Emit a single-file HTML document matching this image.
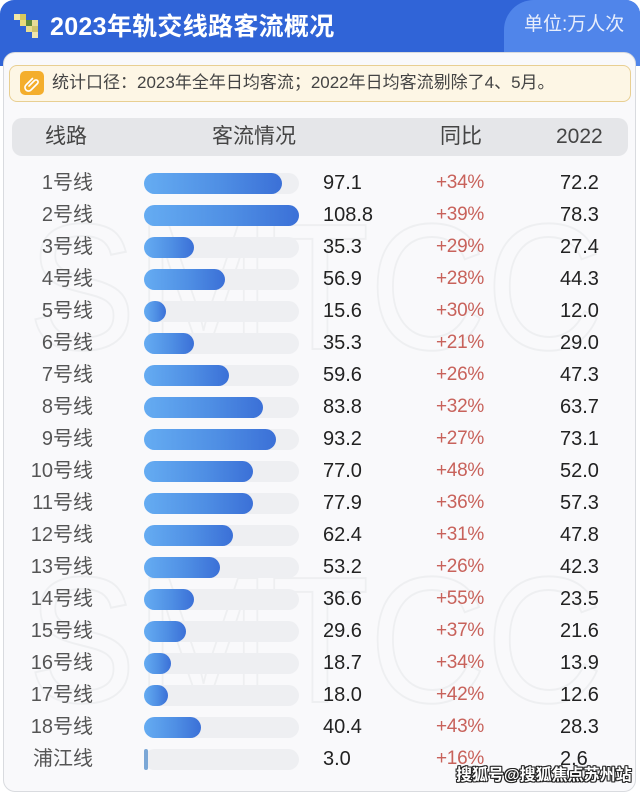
<!DOCTYPE html>
<html><head><meta charset="utf-8">
<style>
*{margin:0;padding:0;box-sizing:border-box}
html,body{width:640px;height:795px;background:#fff;overflow:hidden}
body{position:relative;font-family:"Liberation Sans","Noto Sans CJK SC",sans-serif}
.abs{position:absolute}
.hdr{left:0;top:0;width:640px;height:66px;background:#3064d7;border-radius:14px 14px 0 0}
.tab{left:504px;top:0;width:136px;height:66px;background:#5085ea;border-radius:30px 14px 0 0}
.title{left:50px;top:9px;font-size:25px;font-weight:bold;color:#fff;letter-spacing:0.3px;line-height:36px;white-space:nowrap}
.unit{left:524px;top:11px;font-size:19px;color:#e8eefc;line-height:28px;white-space:nowrap}
.card{left:3px;top:52px;width:633px;height:740px;background:#f9f9fb;border:1px solid #d9dbdf;border-radius:12px;overflow:hidden}
.note{left:9px;top:65px;width:622px;height:37px;background:#fdf6e5;border:1.5px solid #e8cf92;border-radius:8px}
.noteic{left:20px;top:71px;width:24px;height:24px;background:#f4ae2c;border-radius:5px}
.notetx{left:52px;top:70px;font-size:17px;color:#444;line-height:26px;white-space:nowrap}
.th{left:12px;top:118px;width:616px;height:38px;background:#e5e6e9;border-radius:10px}
.thx{top:118px;font-size:21px;color:#444;line-height:38px;white-space:nowrap}
.lbl{width:80px;left:13px;text-align:right;font-size:20px;color:#555;line-height:24px;white-space:nowrap}
.trk{left:144px;width:155px;height:21px;background:#eeeff2;border-radius:11px}
.bar{left:144px;height:21px;border-radius:11px;background:linear-gradient(90deg,#65acf2 0%,#4f8fe4 55%,#3b70d7 100%)}
.v{left:323px;font-size:20px;color:#222;line-height:24px;white-space:nowrap}
.p{left:436px;font-size:19px;color:#c8625b;line-height:24px;letter-spacing:-0.3px;white-space:nowrap}
.o{left:560px;font-size:20px;color:#222;line-height:24px;white-space:nowrap}
.sohu{left:456px;top:764px;font-size:16px;font-weight:bold;color:#fff;white-space:nowrap;line-height:24px;
text-shadow:1px 0 0 #222,-1px 0 0 #222,0 1px 0 #222,0 -1px 0 #222,1px 1px 0 #222,-1px -1px 0 #222,1px -1px 0 #222,-1px 1px 0 #222}
</style></head><body>
<div class="abs hdr"></div>
<div class="abs tab"></div>
<svg class="abs" style="left:14px;top:14px" width="26" height="24" viewBox="0 0 26 24">
<rect x="0" y="0" width="6" height="6" fill="#f1e7a6"/>
<rect x="6" y="0" width="6" height="6" fill="#d8c85c"/>
<rect x="6" y="6" width="6" height="6" fill="#e9dc7c"/>
<rect x="12" y="6" width="6" height="6" fill="#5f8c3c"/>
<rect x="18" y="6" width="6" height="6" fill="#e6dc98"/>
<rect x="12" y="12" width="6" height="6" fill="#e8de92"/>
<rect x="18" y="12" width="6" height="6" fill="#cfc46c"/>
<rect x="18" y="18" width="6" height="6" fill="#efe6ae"/>
</svg>
<div class="abs title">2023年轨交线路客流概况</div>
<div class="abs unit">单位:万人次</div>
<div class="abs card"></div>
<svg class="abs" style="left:3px;top:52px" width="633" height="740">
<g fill="none" stroke="#eeeff1" stroke-width="2" font-family="Liberation Sans, sans-serif" font-size="180">
<text x="25" y="297" textLength="575" lengthAdjust="spacingAndGlyphs">SMTCC</text>
<text x="25" y="650" textLength="575" lengthAdjust="spacingAndGlyphs">SMTCC</text>
</g>
</svg>
<div class="abs note"></div>
<div class="abs noteic"></div>
<svg class="abs" style="left:20px;top:71px" width="24" height="24" viewBox="0 0 24 24">
<path d="M9 15 L14.5 9.5 a2 2 0 0 1 3 3 L11 19 a3.5 3.5 0 0 1 -5 -5 L12.5 7.5" fill="none" stroke="#fff" stroke-width="1.6" stroke-linecap="round"/>
</svg>
<div class="abs notetx">统计口径：2023年全年日均客流；2022年日均客流剔除了4、5月。</div>
<div class="abs th"></div>
<div class="abs thx" style="left:45px">线路</div>
<div class="abs thx" style="left:212px">客流情况</div>
<div class="abs thx" style="left:440px">同比</div>
<div class="abs thx" style="left:556px">2022</div>

<div class="abs lbl" style="top:171px">1号线</div><div class="abs trk" style="top:173px"></div><div class="abs bar" style="top:173px;width:138px"></div><div class="abs v" style="top:171px">97.1</div><div class="abs p" style="top:171px">+34%</div><div class="abs o" style="top:171px">72.2</div>
<div class="abs lbl" style="top:203px">2号线</div><div class="abs trk" style="top:205px"></div><div class="abs bar" style="top:205px;width:155px"></div><div class="abs v" style="top:203px">108.8</div><div class="abs p" style="top:203px">+39%</div><div class="abs o" style="top:203px">78.3</div>
<div class="abs lbl" style="top:235px">3号线</div><div class="abs trk" style="top:237px"></div><div class="abs bar" style="top:237px;width:50px"></div><div class="abs v" style="top:235px">35.3</div><div class="abs p" style="top:235px">+29%</div><div class="abs o" style="top:235px">27.4</div>
<div class="abs lbl" style="top:267px">4号线</div><div class="abs trk" style="top:269px"></div><div class="abs bar" style="top:269px;width:81px"></div><div class="abs v" style="top:267px">56.9</div><div class="abs p" style="top:267px">+28%</div><div class="abs o" style="top:267px">44.3</div>
<div class="abs lbl" style="top:299px">5号线</div><div class="abs trk" style="top:301px"></div><div class="abs bar" style="top:301px;width:22px"></div><div class="abs v" style="top:299px">15.6</div><div class="abs p" style="top:299px">+30%</div><div class="abs o" style="top:299px">12.0</div>
<div class="abs lbl" style="top:331px">6号线</div><div class="abs trk" style="top:333px"></div><div class="abs bar" style="top:333px;width:50px"></div><div class="abs v" style="top:331px">35.3</div><div class="abs p" style="top:331px">+21%</div><div class="abs o" style="top:331px">29.0</div>
<div class="abs lbl" style="top:363px">7号线</div><div class="abs trk" style="top:365px"></div><div class="abs bar" style="top:365px;width:85px"></div><div class="abs v" style="top:363px">59.6</div><div class="abs p" style="top:363px">+26%</div><div class="abs o" style="top:363px">47.3</div>
<div class="abs lbl" style="top:395px">8号线</div><div class="abs trk" style="top:397px"></div><div class="abs bar" style="top:397px;width:119px"></div><div class="abs v" style="top:395px">83.8</div><div class="abs p" style="top:395px">+32%</div><div class="abs o" style="top:395px">63.7</div>
<div class="abs lbl" style="top:427px">9号线</div><div class="abs trk" style="top:429px"></div><div class="abs bar" style="top:429px;width:132px"></div><div class="abs v" style="top:427px">93.2</div><div class="abs p" style="top:427px">+27%</div><div class="abs o" style="top:427px">73.1</div>
<div class="abs lbl" style="top:459px">10号线</div><div class="abs trk" style="top:461px"></div><div class="abs bar" style="top:461px;width:109px"></div><div class="abs v" style="top:459px">77.0</div><div class="abs p" style="top:459px">+48%</div><div class="abs o" style="top:459px">52.0</div>
<div class="abs lbl" style="top:491px">11号线</div><div class="abs trk" style="top:493px"></div><div class="abs bar" style="top:493px;width:109px"></div><div class="abs v" style="top:491px">77.9</div><div class="abs p" style="top:491px">+36%</div><div class="abs o" style="top:491px">57.3</div>
<div class="abs lbl" style="top:523px">12号线</div><div class="abs trk" style="top:525px"></div><div class="abs bar" style="top:525px;width:89px"></div><div class="abs v" style="top:523px">62.4</div><div class="abs p" style="top:523px">+31%</div><div class="abs o" style="top:523px">47.8</div>
<div class="abs lbl" style="top:555px">13号线</div><div class="abs trk" style="top:557px"></div><div class="abs bar" style="top:557px;width:76px"></div><div class="abs v" style="top:555px">53.2</div><div class="abs p" style="top:555px">+26%</div><div class="abs o" style="top:555px">42.3</div>
<div class="abs lbl" style="top:587px">14号线</div><div class="abs trk" style="top:589px"></div><div class="abs bar" style="top:589px;width:50px"></div><div class="abs v" style="top:587px">36.6</div><div class="abs p" style="top:587px">+55%</div><div class="abs o" style="top:587px">23.5</div>
<div class="abs lbl" style="top:619px">15号线</div><div class="abs trk" style="top:621px"></div><div class="abs bar" style="top:621px;width:42px"></div><div class="abs v" style="top:619px">29.6</div><div class="abs p" style="top:619px">+37%</div><div class="abs o" style="top:619px">21.6</div>
<div class="abs lbl" style="top:651px">16号线</div><div class="abs trk" style="top:653px"></div><div class="abs bar" style="top:653px;width:27px"></div><div class="abs v" style="top:651px">18.7</div><div class="abs p" style="top:651px">+34%</div><div class="abs o" style="top:651px">13.9</div>
<div class="abs lbl" style="top:683px">17号线</div><div class="abs trk" style="top:685px"></div><div class="abs bar" style="top:685px;width:24px"></div><div class="abs v" style="top:683px">18.0</div><div class="abs p" style="top:683px">+42%</div><div class="abs o" style="top:683px">12.6</div>
<div class="abs lbl" style="top:715px">18号线</div><div class="abs trk" style="top:717px"></div><div class="abs bar" style="top:717px;width:57px"></div><div class="abs v" style="top:715px">40.4</div><div class="abs p" style="top:715px">+43%</div><div class="abs o" style="top:715px">28.3</div>
<div class="abs lbl" style="top:747px">浦江线</div><div class="abs trk" style="top:749px"></div><div class="abs bar" style="top:749px;width:4px;border-radius:2px;background:#7ba7d6"></div><div class="abs v" style="top:747px">3.0</div><div class="abs p" style="top:747px">+16%</div><div class="abs o" style="top:747px">2.6</div>

<div class="abs sohu">搜狐号@搜狐焦点苏州站</div>
</body></html>
